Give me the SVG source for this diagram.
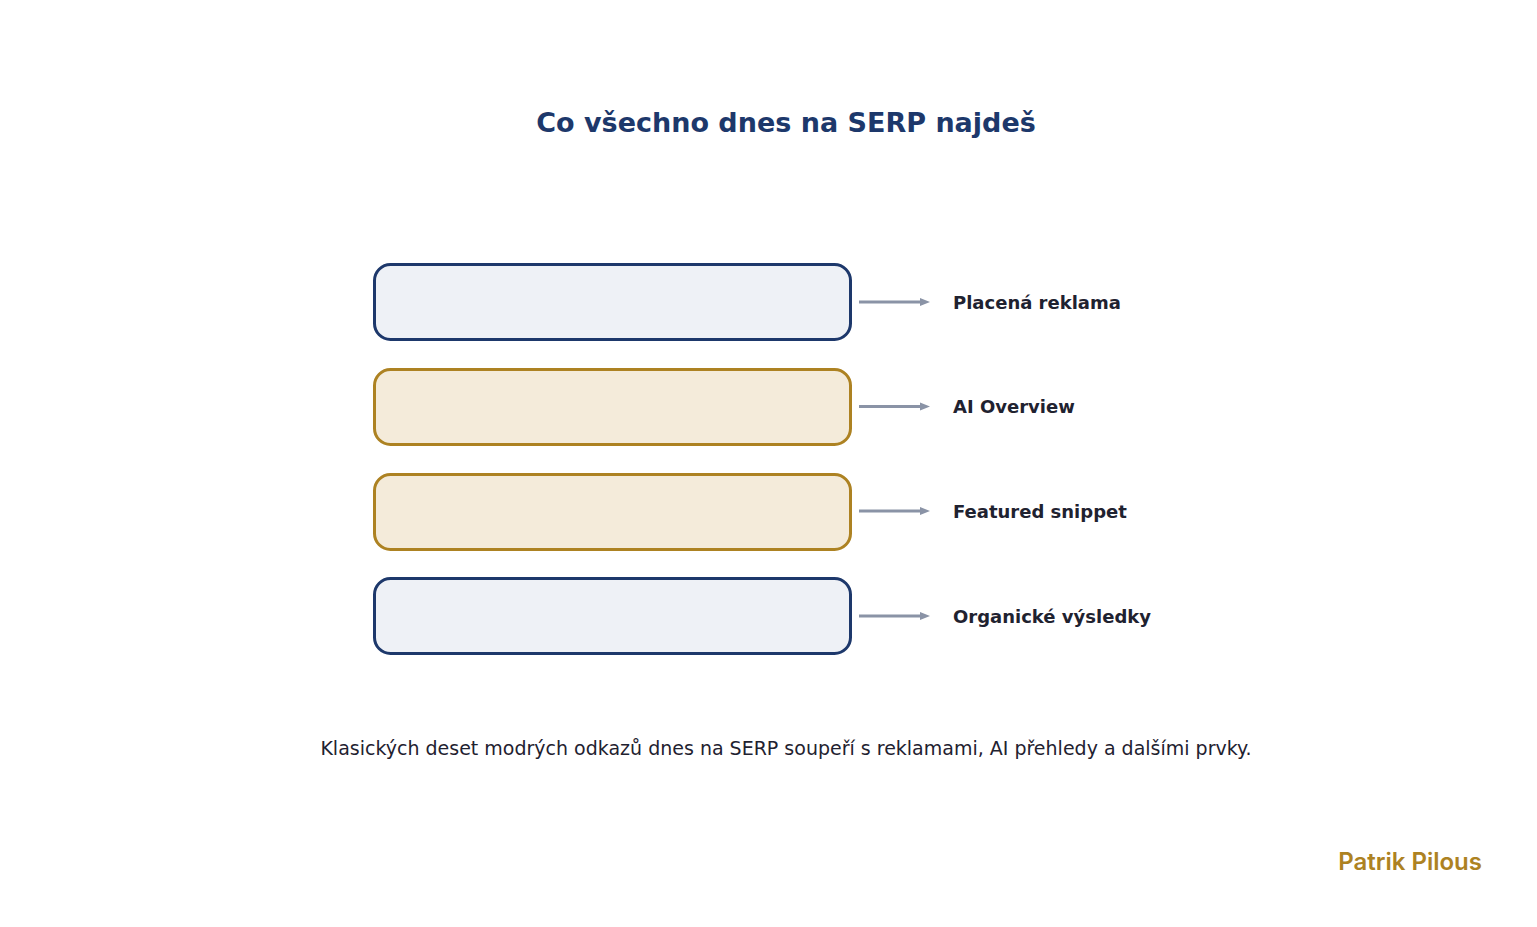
<svg xmlns="http://www.w3.org/2000/svg" width="1537" height="927" viewBox="0 0 1537 927">
<style>
.blue{fill:#eef1f6;stroke:#1d386b;stroke-width:3}
.gold{fill:#f4ebda;stroke:#ad8222;stroke-width:3}
.lbl{font-family:"DejaVu Sans",sans-serif;font-weight:bold;font-size:18px;fill:#1f2230;dominant-baseline:central}
.c{stroke:#8a93a6;stroke-width:3;fill:none;marker-end:url(#a)}
</style>
<defs><marker id="a" markerWidth="10" markerHeight="10" refX="2" refY="4" orient="auto" markerUnits="userSpaceOnUse" viewBox="0 0 10 8"><path d="M0,0L10,4L0,8z" fill="#8a93a6"/></marker></defs>
<rect width="1537" height="927" fill="#fff"/>
<text x="786" y="122" text-anchor="middle" dominant-baseline="central" font-family="DejaVu Sans,sans-serif" font-weight="bold" font-size="27" fill="#1d386b">Co všechno dnes na SERP najdeš</text>
<g id="n1"><rect class="blue" x="374.5" y="264.5" width="476" height="75" rx="16"/><text class="lbl" x="953" y="302">Placená reklama</text></g>
<g id="n2"><rect class="gold" x="374.5" y="369.5" width="476" height="75" rx="16"/><text class="lbl" x="953" y="406">AI Overview</text></g>
<g id="n3"><rect class="gold" x="374.5" y="474.5" width="476" height="75" rx="16"/><text class="lbl" x="953" y="511">Featured snippet</text></g>
<g id="n4"><rect class="blue" x="374.5" y="578.5" width="476" height="75" rx="16"/><text class="lbl" x="953" y="616">Organické výsledky</text></g>
<g id="connectors">
<path class="c" d="M859,302H922"/><path class="c" d="M859,406.5H922"/><path class="c" d="M859,511H922"/><path class="c" d="M859,616H922"/>
</g>
<text x="786" y="748" text-anchor="middle" dominant-baseline="central" font-family="DejaVu Sans,sans-serif" font-size="19" fill="#1f2230">Klasických deset modrých odkazů dnes na SERP soupeří s reklamami, AI přehledy a dalšími prvky.</text>
<text x="1482" y="861" text-anchor="end" dominant-baseline="central" font-family="Inter,sans-serif" font-weight="600" font-size="24" fill="#ad8222">Patrik Pilous</text>
</svg>
